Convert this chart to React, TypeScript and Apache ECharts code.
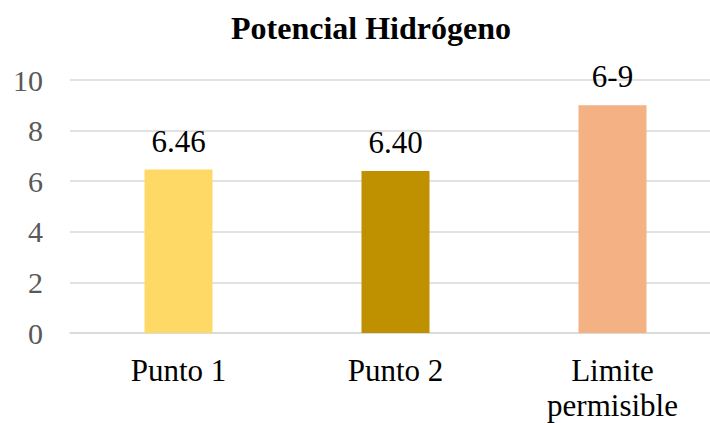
import React, { useEffect, useRef } from "react";
import * as echarts from "echarts";

const categories = ["Punto 1", "Punto 2", "Limite\npermisible"];
const values = [6.46, 6.4, 9];
const labels = ["6.46", "6.40", "6-9"];
const colors = ["#FFD966", "#BF9000", "#F4B183"];
const yTicks = [0, 2, 4, 6, 8, 10];

export default function App() {
  const ref = useRef<HTMLDivElement>(null);
  useEffect(() => {
    if (!ref.current) return;
    const chart = echarts.init(ref.current, undefined, { renderer: "svg" });
    const font = "Liberation Serif, serif";
    chart.setOption({
      animation: false,
      textStyle: { fontFamily: font },
      title: {
        text: "Potencial Hidrógeno",
        left: 371,
        top: 12,
        padding: 0,
        textAlign: "center",
        textStyle: { fontFamily: font, fontSize: 32, fontWeight: "bold", color: "#000" },
      },
      grid: { left: 70, width: 651, top: 80, height: 253, containLabel: false, outerBoundsMode: "none" },
      xAxis: {
        type: "category",
        data: categories,
        axisTick: { show: false },
        axisLine: { lineStyle: { color: "#D9D9D9", width: 1.5 } },
        axisLabel: {
          fontFamily: font,
          fontSize: 31,
          color: "#000",
          margin: 20,
          lineHeight: 35,
        },
      },
      yAxis: {
        type: "value",
        min: yTicks[0],
        max: yTicks[yTicks.length - 1],
        interval: 2,
        axisLine: { show: false },
        axisTick: { show: false },
        splitLine: { lineStyle: { color: "#D9D9D9", width: 1.5 } },
        axisLabel: { fontFamily: font, fontSize: 30, color: "#595959", margin: 27 },
      },
      series: [
        {
          type: "bar",
          barWidth: 68,
          data: values.map((v, i) => ({ value: v, itemStyle: { color: colors[i] } })),
          label: {
            show: true,
            position: "top",
            distance: 13,
            fontFamily: font,
            fontSize: 31,
            color: "#000",
            formatter: (p: any) => labels[p.dataIndex],
          },
        },
      ],
    });
    return () => chart.dispose();
  }, []);
  return <div ref={ref} style={{ position: "fixed", left: 0, top: 0, width: 710, height: 423, background: "#fff" }} />;
}
